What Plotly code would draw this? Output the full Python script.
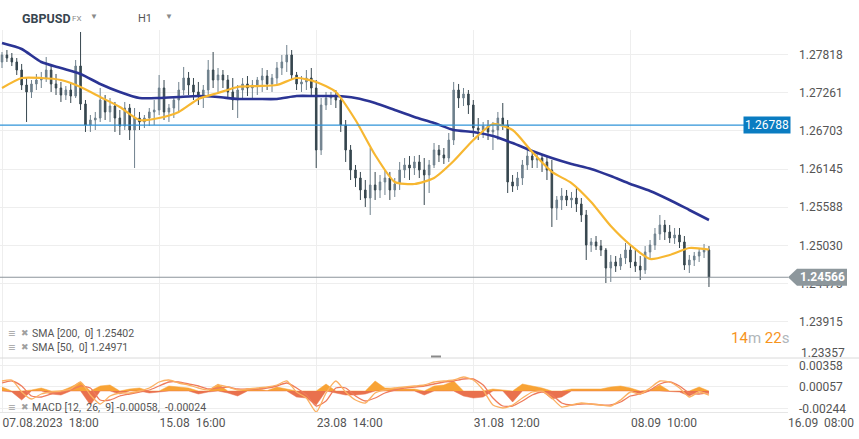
import plotly.graph_objects as go

# ---------------- data ----------------
open_ = [
    1.27709, 1.27811, 1.27767, 1.27709, 1.27592, 1.27373, 1.27271, 1.27388, 1.27446, 1.27475,
    1.27592, 1.27388, 1.27329, 1.27227, 1.27300, 1.27212, 1.27650, 1.27096, 1.26789, 1.26862,
    1.26891, 1.27154, 1.26979, 1.27066, 1.26891, 1.26774, 1.27037, 1.26716, 1.26891, 1.26833,
    1.26891, 1.26979, 1.27008, 1.27329, 1.26979, 1.27037, 1.27154, 1.27300, 1.27475, 1.27373,
    1.27271, 1.27227, 1.27300, 1.27592, 1.27446, 1.27519, 1.27446, 1.27271, 1.27154, 1.27300,
    1.27388, 1.27329, 1.27373, 1.27446, 1.27504, 1.27388, 1.27475, 1.27621, 1.27709, 1.27811,
    1.27519, 1.27388, 1.27417, 1.27475, 1.27329, 1.26424, 1.27081, 1.27183, 1.27212, 1.27154,
    1.26789, 1.26424, 1.26132, 1.26015, 1.25840, 1.25723, 1.25913, 1.25840, 1.25957, 1.26015,
    1.25840, 1.25928, 1.26132, 1.26205, 1.26161, 1.26249, 1.26132, 1.26059, 1.26205, 1.26424,
    1.26351, 1.26307, 1.26570, 1.27300, 1.27183, 1.27242, 1.27081, 1.26745, 1.26716, 1.26774,
    1.26687, 1.26716, 1.26891, 1.26789, 1.25957, 1.25898, 1.26015, 1.26205, 1.26336, 1.26278,
    1.26307, 1.26249, 1.26132, 1.25577, 1.25694, 1.25752, 1.25694, 1.25723, 1.25636, 1.25475,
    1.25037, 1.25081, 1.25022, 1.24964, 1.24701, 1.24789, 1.24730, 1.24847, 1.24964, 1.24789,
    1.24730, 1.24672, 1.24935, 1.25037, 1.25198, 1.25329, 1.25227, 1.25139, 1.25183, 1.25081,
    1.24745, 1.24818, 1.24876, 1.24935, 1.24964,
]
high = [
    1.27855, 1.27884, 1.27840, 1.27767, 1.27680, 1.27475, 1.27446, 1.27534, 1.27563, 1.27782,
    1.27665, 1.27534, 1.27417, 1.27358, 1.27388, 1.27738, 1.28147, 1.27154, 1.26935, 1.26979,
    1.27329, 1.27227, 1.27183, 1.27125, 1.27008, 1.27125, 1.27096, 1.27037, 1.26979, 1.26935,
    1.27037, 1.27154, 1.27519, 1.27446, 1.27096, 1.27212, 1.27417, 1.27636, 1.27563, 1.27475,
    1.27417, 1.27373, 1.27738, 1.27855, 1.27621, 1.27592, 1.27519, 1.27475, 1.27373, 1.27475,
    1.27504, 1.27446, 1.27490, 1.27621, 1.27592, 1.27534, 1.27709, 1.27811, 1.27957, 1.27884,
    1.27563, 1.27504, 1.27592, 1.27621, 1.27446, 1.27183, 1.27271, 1.27271, 1.27300, 1.27183,
    1.26862, 1.26497, 1.26205, 1.26103, 1.25986, 1.26453, 1.26103, 1.26059, 1.26132, 1.26103,
    1.26015, 1.26249, 1.26307, 1.26336, 1.26336, 1.26351, 1.26307, 1.26278, 1.26526, 1.26497,
    1.26453, 1.26672, 1.27417, 1.27388, 1.27329, 1.27300, 1.27154, 1.26891, 1.26833, 1.26862,
    1.26833, 1.26979, 1.27110, 1.26862, 1.26059, 1.26103, 1.26278, 1.26424, 1.26424, 1.26380,
    1.26351, 1.26336, 1.26278, 1.25752, 1.25869, 1.25840, 1.25811, 1.25869, 1.25723, 1.25548,
    1.25139, 1.25168, 1.25110, 1.24993, 1.24891, 1.24876, 1.24906, 1.25066, 1.25037, 1.24964,
    1.24876, 1.25022, 1.25110, 1.25285, 1.25475, 1.25402, 1.25329, 1.25285, 1.25285, 1.25168,
    1.24891, 1.24935, 1.24993, 1.25052, 1.25022,
]
low = [
    1.27621, 1.27709, 1.27650, 1.27519, 1.27300, 1.26833, 1.27183, 1.27300, 1.27329, 1.27417,
    1.27271, 1.27227, 1.27125, 1.27154, 1.27110, 1.27183, 1.27008, 1.26687, 1.26687, 1.26716,
    1.26833, 1.26862, 1.26833, 1.26687, 1.26643, 1.26716, 1.26570, 1.26161, 1.26716, 1.26745,
    1.26774, 1.26789, 1.26935, 1.26862, 1.26833, 1.26891, 1.26979, 1.27227, 1.27227, 1.27154,
    1.27081, 1.27037, 1.27212, 1.27329, 1.27271, 1.27329, 1.27183, 1.27008, 1.26891, 1.27183,
    1.27212, 1.27154, 1.27227, 1.27271, 1.27300, 1.27271, 1.27388, 1.27519, 1.27563, 1.27446,
    1.27300, 1.27271, 1.27300, 1.27212, 1.26161, 1.26351, 1.27008, 1.27081, 1.27037, 1.26687,
    1.26249, 1.25986, 1.25884, 1.25694, 1.25592, 1.25475, 1.25694, 1.25723, 1.25767, 1.25694,
    1.25738, 1.25840, 1.26015, 1.25986, 1.26059, 1.26015, 1.25621, 1.25796, 1.26161, 1.26249,
    1.26220, 1.26249, 1.26497, 1.27037, 1.27066, 1.26950, 1.26614, 1.26570, 1.26599, 1.26570,
    1.26424, 1.26570, 1.26716, 1.25796, 1.25811, 1.25840, 1.25913, 1.26132, 1.26161, 1.26161,
    1.26103, 1.25986, 1.25300, 1.25402, 1.25548, 1.25606, 1.25577, 1.25519, 1.25373, 1.24818,
    1.24935, 1.24964, 1.24876, 1.24482, 1.24497, 1.24643, 1.24672, 1.24760, 1.24701, 1.24643,
    1.24526, 1.24614, 1.24847, 1.24964, 1.25110, 1.25110, 1.25066, 1.25052, 1.24993, 1.24672,
    1.24628, 1.24730, 1.24789, 1.24847, 1.24424,
]
close = [
    1.27811, 1.27767, 1.27709, 1.27592, 1.27373, 1.27271, 1.27388, 1.27446, 1.27475, 1.27592,
    1.27388, 1.27329, 1.27227, 1.27300, 1.27212, 1.27650, 1.27096, 1.26789, 1.26862, 1.26891,
    1.27154, 1.26979, 1.27066, 1.26891, 1.26774, 1.27037, 1.26716, 1.26891, 1.26833, 1.26891,
    1.26979, 1.27008, 1.27329, 1.26979, 1.27037, 1.27154, 1.27300, 1.27475, 1.27373, 1.27271,
    1.27227, 1.27300, 1.27592, 1.27446, 1.27519, 1.27446, 1.27271, 1.27154, 1.27300, 1.27388,
    1.27329, 1.27373, 1.27446, 1.27504, 1.27388, 1.27475, 1.27621, 1.27709, 1.27811, 1.27519,
    1.27388, 1.27417, 1.27475, 1.27329, 1.26424, 1.27081, 1.27183, 1.27212, 1.27154, 1.26789,
    1.26424, 1.26132, 1.26015, 1.25840, 1.25723, 1.25913, 1.25840, 1.25957, 1.26015, 1.25840,
    1.25928, 1.26132, 1.26205, 1.26161, 1.26249, 1.26132, 1.26059, 1.26205, 1.26424, 1.26351,
    1.26307, 1.26570, 1.27300, 1.27183, 1.27242, 1.27081, 1.26745, 1.26716, 1.26774, 1.26687,
    1.26716, 1.26891, 1.26789, 1.25957, 1.25898, 1.26015, 1.26205, 1.26336, 1.26278, 1.26307,
    1.26249, 1.26132, 1.25577, 1.25694, 1.25752, 1.25694, 1.25723, 1.25636, 1.25475, 1.25037,
    1.25081, 1.25022, 1.24964, 1.24701, 1.24789, 1.24730, 1.24847, 1.24964, 1.24789, 1.24730,
    1.24672, 1.24935, 1.25037, 1.25198, 1.25329, 1.25227, 1.25139, 1.25183, 1.25081, 1.24745,
    1.24818, 1.24876, 1.24935, 1.24964, 1.24566,
]

# SMA values, sampled every 4th bar
sma200 = [
    1.27986, 1.27899, 1.27709, 1.27621, 1.27534, 1.27388, 1.27271, 1.27183, 1.27183, 1.27198,
    1.27212, 1.27198, 1.27169, 1.27169, 1.27169, 1.27212, 1.27212, 1.27212, 1.27183, 1.27110,
    1.27008, 1.26906, 1.26818, 1.26716, 1.26687, 1.26628, 1.26526, 1.26409, 1.26307, 1.26220,
    1.26147, 1.26044, 1.25928, 1.25825, 1.25694, 1.25548, 1.25402,
]
sma50 = [
    1.27329, 1.27475, 1.27475, 1.27446, 1.27344, 1.27198, 1.27052, 1.26862, 1.26891, 1.26979,
    1.27169, 1.27256, 1.27344, 1.27358, 1.27373, 1.27475, 1.27417, 1.27271, 1.26862, 1.26351,
    1.25957, 1.25928, 1.26015, 1.26263, 1.26570, 1.26804, 1.26716, 1.26395, 1.26103, 1.25942,
    1.25665, 1.25314, 1.25037, 1.24833, 1.24891, 1.24993, 1.24971,
]

# MACD values, sampled every 2nd bar
macd_line = [
    0.0014, 0.00154, -0.00014, -0.00112, -0.00042, -0.00014, 0.0, 0.00028, 0.00126, -0.00056,
    -0.00182, -0.0007, -0.00028, -0.00028, 0.0, 0.00042, 0.00126, 0.00154, 0.00112, 0.00084,
    0.00042, 0.00014, 0.00084, 0.00056, 0.00014, 0.00028, 0.00042, 0.00056, 0.00084, 0.0014,
    -0.00014, -0.00098, -0.00294, -0.00028, 0.0014, -0.00014, -0.00126, -0.00168, -0.00028, 0.00014,
    0.00042, 0.00056, 0.0007, 0.00084, 0.00126, 0.0014, 0.00154, 0.00196, 0.00154, 0.00014,
    -0.00196, -0.00238, -0.00196, -0.00098, -0.00014, 0.0, -0.00098, -0.00224, -0.00196, -0.00168,
    -0.00182, -0.00196, -0.0021, -0.00126, -0.00014, -0.00042, 0.00042, 0.0014, 0.00126, 0.00042,
    -0.00084, -0.00014, -0.00058,
]
macd_signal = [
    0.00112, 0.0014, 0.0007, -0.0007, -0.00084, -0.00042, -0.00014, 0.00014, 0.0007, 0.00042,
    -0.00126, -0.00126, -0.0007, -0.00042, -0.00014, 0.00014, 0.0007, 0.00126, 0.00126, 0.00098,
    0.0007, 0.00028, 0.00042, 0.00056, 0.00028, 0.00028, 0.00028, 0.00042, 0.0007, 0.00112,
    0.00042, -0.00056, -0.0021, -0.0014, 0.00042, 0.00042, -0.0007, -0.0014, -0.00098, -0.00028,
    0.00014, 0.00042, 0.00056, 0.0007, 0.00098, 0.00126, 0.0014, 0.00168, 0.00168, 0.00084,
    -0.00098, -0.0021, -0.0021, -0.0014, -0.00056, -0.00014, -0.00056, -0.00168, -0.00196, -0.00182,
    -0.00182, -0.00196, -0.00196, -0.00154, -0.0007, -0.00042, 0.00014, 0.00098, 0.00126, 0.0007,
    -0.00028, -0.00042, -0.00024,
]
macd_hist = [
    0.00056, -0.00014, -0.00126, 0.00014, 0.00042, -0.00042, -0.00056, 0.00056, 0.00126, -0.00196,
    0.0007, 0.00084, -0.00042, 0.00028, 0.00042, -0.00028, -0.00014, 0.0007, 0.00056, 0.00042,
    -0.00042, -0.00014, 0.00098, -0.00028, -0.0007, 0.00028, 0.00028, 0.00006, 0.00056, 0.00028,
    -0.00084, -0.00098, -0.00196, 0.00098, -0.00028, -0.00056, -0.00056, -0.00042, 0.0014, 0.00042,
    0.00042, 0.00028, 0.00028, -0.00056, 0.0007, 0.00084, 0.0014, -0.0007, -0.00098, -0.00084,
    0.00028, 0.00014, -0.00154, 0.00098, 0.0007, 0.00042, -0.00112, -0.00084, 0.00028, 0.00028,
    0.00028, 0.00028, 0.00056, 0.0007, 0.00042, -0.00042, 0.00014, 0.00084, -0.00006, -0.00014,
    -0.0007, 0.00056, -0.00034,
]

x_tick_pos = [0, 32, 64, 96, 128, 160]
x_tick_labels = ["07.08.2023\u00a0\u00a018:00", "15.08\u00a0\u00a016:00", "23.08\u00a0\u00a014:00",
                 "31.08\u00a0\u00a012:00", "08.09\u00a0\u00a010:00", "16.09\u00a0\u00a008:00"]
price_ticks = [1.27818, 1.27261, 1.26703, 1.26145, 1.25588, 1.25030, 1.24473, 1.23915]
macd_ticks = [0.00358, 0.00057, -0.00244]
ref_line_price = 1.26788
sma200_last = 1.25402
sma50_last = 1.24971
macd_last = -0.00058
signal_last = -0.00024

# ---------------- figure ----------------
bars = list(range(len(close)))
sma_x = list(range(0, len(close), 4))
macd_x = list(range(0, len(close), 2))

W, H = 859, 439
ML, MR, MT, MB = 0, 71, 30, 27
PW, PH = W - ML - MR, H - MT - MB
sep_px = 358
split = (H - MB - sep_px) / PH
y_range = [1.23387, 1.28176]
m_range = [-0.00294, 0.00462]
x_range = [-0.41, 160.1]


def px_x(px):
    return (px - ML) / PW


def px_y(py):
    return (H - MB - py) / PH


def price_to_paper(p):
    return split + (p - y_range[0]) / (y_range[1] - y_range[0]) * (1 - split)


fig = go.Figure()
fig.add_trace(go.Candlestick(
    x=bars, open=open_, high=high, low=low, close=close,
    increasing=dict(line=dict(color="#6f818d", width=1), fillcolor="#6f818d"),
    decreasing=dict(line=dict(color="#37474f", width=1), fillcolor="#37474f"),
    whiskerwidth=0, xaxis="x", yaxis="y", hoverinfo="skip"))
fig.add_trace(go.Scatter(x=sma_x, y=sma200, mode="lines",
                         line=dict(color="#2b3494", width=2.6, shape="spline", smoothing=0.6),
                         xaxis="x", yaxis="y", hoverinfo="skip"))
fig.add_trace(go.Scatter(x=sma_x, y=sma50, mode="lines",
                         line=dict(color="#f7b731", width=2.2, shape="spline", smoothing=0.6),
                         xaxis="x", yaxis="y", hoverinfo="skip"))

# MACD histogram drawn as two filled areas (positive / negative parts)
hist_pos = [max(v, 0.0) for v in macd_hist]
hist_neg = [min(v, 0.0) for v in macd_hist]
fig.add_trace(go.Scatter(x=macd_x, y=hist_pos, mode="lines", fill="tozeroy",
                         line=dict(color="#f8a335", width=0.5), fillcolor="#f8a335",
                         xaxis="x2", yaxis="y2", hoverinfo="skip"))
fig.add_trace(go.Scatter(x=macd_x, y=hist_neg, mode="lines", fill="tozeroy",
                         line=dict(color="#e9714d", width=0.5), fillcolor="#e9714d",
                         xaxis="x2", yaxis="y2", hoverinfo="skip"))
fig.add_trace(go.Scatter(x=macd_x, y=macd_signal, mode="lines",
                         line=dict(color="#ee7b5c", width=1.3, shape="spline", smoothing=0.6),
                         xaxis="x2", yaxis="y2", hoverinfo="skip"))
fig.add_trace(go.Scatter(x=macd_x, y=macd_line, mode="lines",
                         line=dict(color="#fbb062", width=1.3, shape="spline", smoothing=0.6),
                         xaxis="x2", yaxis="y2", hoverinfo="skip"))

grid = "#eeeeee"
tickfont = dict(family="Roboto", size=12, color="#555555")
fig.update_layout(
    width=W, height=H, margin=dict(l=ML, r=MR, t=MT, b=MB),
    paper_bgcolor="white", plot_bgcolor="white", showlegend=False,
    font=dict(family="Roboto", color="#555555"),
    boxgap=0.55,
    xaxis=dict(domain=[0, 1], anchor="y", range=x_range, tickvals=x_tick_pos, showticklabels=False,
               showgrid=True, gridcolor=grid, zeroline=False, showline=False, ticks="",
               rangeslider=dict(visible=False), matches="x2"),
    yaxis=dict(domain=[split, 1], anchor="x", side="right", range=y_range, tickvals=price_ticks,
               ticktext=[f"{v:.5f}" for v in price_ticks], showgrid=True, gridcolor=grid,
               zeroline=False, showline=False, ticks="", tickfont=tickfont, ticklabelstandoff=10),
    xaxis2=dict(domain=[0, 1], anchor="y2", range=x_range, tickvals=x_tick_pos, ticktext=x_tick_labels,
                ticklabelposition="outside right", showgrid=True, gridcolor=grid, zeroline=False,
                showline=True, linecolor="#e6e6e6", ticks="", tickfont=tickfont),
    yaxis2=dict(domain=[0, split], anchor="x2", side="right", range=m_range, tickvals=macd_ticks,
                ticktext=[f"{v:.5f}" for v in macd_ticks], showgrid=True, gridcolor=grid,
                zeroline=False, showline=False, ticks="", tickfont=tickfont, ticklabelstandoff=10),
)

last = close[-1]
half_h = 8.5 / PH
shapes = [
    dict(type="line", xref="paper", yref="y", x0=0, x1=1, y0=ref_line_price, y1=ref_line_price,
         line=dict(color="#2f93d8", width=1.2)),
    dict(type="line", xref="paper", yref="y", x0=0, x1=1, y0=last, y1=last,
         line=dict(color="#8c959b", width=1.2)),
    dict(type="path", xref="paper", yref="paper",
         path=(f"M {px_x(788)},{price_to_paper(last)} L {px_x(797)},{price_to_paper(last) + half_h} "
               f"L {px_x(847)},{price_to_paper(last) + half_h} L {px_x(847)},{price_to_paper(last) - half_h} "
               f"L {px_x(797)},{price_to_paper(last) - half_h} Z"),
         fillcolor="#8d979c", line=dict(width=0)),
    dict(type="line", xref="paper", yref="paper", x0=0, x1=px_x(W), y0=split, y1=split,
         line=dict(color="#dadada", width=1)),
    dict(type="line", xref="paper", yref="paper", x0=px_x(431), x1=px_x(441), y0=px_y(356.5), y1=px_y(356.5),
         line=dict(color="#8a8a8a", width=2)),
]
fig.update_layout(shapes=shapes)

ann = []


def add_text(text, px, py, size, color, xanchor="left", bold=False, **kw):
    ann.append(dict(text=f"<b>{text}</b>" if bold else text, xref="paper", yref="paper",
                    x=px_x(px), y=px_y(py), xanchor=xanchor, yanchor="middle", showarrow=False,
                    font=dict(family="Roboto", size=size, color=color), **kw))


add_text("GBPUSD", 20, 18, 12.5, "#37454f", bold=True)
add_text("FX", 70, 19, 8, "#8a8a8a")
add_text("\u25BC", 88, 17, 8, "#8a8a8a")
add_text("H1", 136, 18, 11, "#555555")
add_text("\u25BC", 163, 17, 8, "#8a8a8a")

add_text("\u2261", 6, 333, 13, "#a0a0a0")
add_text("\u2716", 19, 333, 9, "#a0a0a0")
add_text(f"SMA [200,\u00a0 0] {sma200_last:.5f}", 30, 333, 10.5, "#555555")
add_text("\u2261", 6, 347, 13, "#a0a0a0")
add_text("\u2716", 19, 347, 9, "#a0a0a0")
add_text(f"SMA [50,\u00a0 0] {sma50_last:.5f}", 30, 347, 10.5, "#555555")
add_text("\u2261", 6, 407, 13, "#a0a0a0")
add_text("\u2716", 19, 407, 9, "#a0a0a0")
add_text(f"MACD [12,\u00a0 26,\u00a0 9] {macd_last:.5f},\u00a0 {signal_last:.5f}", 30, 407, 10.5, "#555555")

add_text("<span style='color:#f7941d'>14</span><span style='color:#b0b6ba'>m</span> "
         "<span style='color:#f7941d'>22</span><span style='color:#b0b6ba'>s</span>",
         791, 338, 15, "#f7941d", xanchor="right")
add_text("1.23357", 799, 353, 12, "#555555")

ann.append(dict(text=f"{ref_line_price:.5f}", xref="paper", yref="y", x=px_x(791), y=ref_line_price,
                xanchor="right", yanchor="middle", showarrow=False, bgcolor="#0a7cc1", borderpad=1,
                font=dict(family="Roboto", size=12, color="white")))
ann.append(dict(text=f"<b>{last:.5f}</b>", xref="paper", yref="paper", x=px_x(822), y=price_to_paper(last),
                xanchor="center", yanchor="middle", showarrow=False,
                font=dict(family="Roboto", size=12, color="white")))
fig.update_layout(annotations=ann)

fig.write_html("out.html", config={"displayModeBar": False},
               post_script="document.body.style.margin='0';document.body.style.overflow='hidden';")
